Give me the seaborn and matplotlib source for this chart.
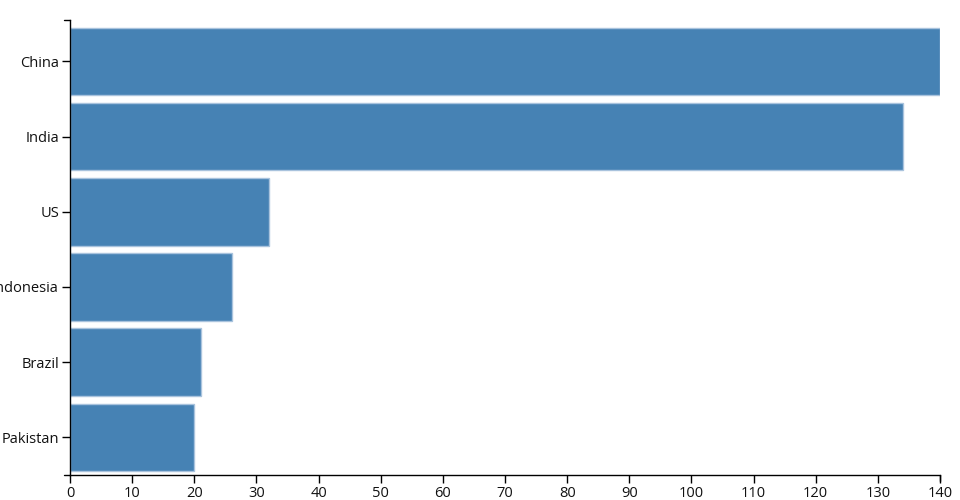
import matplotlib
matplotlib.use("Agg")
import matplotlib.pyplot as plt
import seaborn as sns
import pandas as pd

# 資料
countries = ["China", "India", "US", "Indonesia", "Brazil", "Pakistan"]
values = [140, 134, 32, 26, 21, 20]
x_ticks = list(range(0, 141, 10))

sns.set_style("ticks")
plt.rcParams['font.family'] = ['Open Sans', 'DejaVu Sans']

df = pd.DataFrame({"country": countries, "value": values})

fig = plt.figure(figsize=(9.6, 5.0), dpi=100)
ax = fig.add_axes([70 / 960, 25 / 500, 870 / 960, 455 / 500])

sns.barplot(data=df, x="value", y="country", orient="h", color="#4682B4",
            saturation=1, width=0.9, edgecolor="#a9c3dd", linewidth=1, ax=ax)

ax.set_xlim(0, 140)
ax.set_ylim(len(countries) - 0.5, -0.55)
ax.set_xticks(x_ticks)
ax.set_xlabel("")
ax.set_ylabel("")

# 座標軸樣式（仿 D3）
for s in ["top", "right"]:
    ax.spines[s].set_visible(False)
for s in ["left", "bottom"]:
    ax.spines[s].set_linewidth(1)
    ax.spines[s].set_color("black")
ax.tick_params(axis="both", length=6, width=1, color="black",
               labelsize=10.5, labelcolor="#111111", pad=2)

# 外側端點刻度
tick_kw = dict(color="black", linewidth=1, clip_on=False, transform=ax.transAxes)
dx = 6 / 870
dy = 6 / 455
ax.plot([-dx, 0], [1, 1], **tick_kw)
ax.plot([-dx, 0], [0, 0], **tick_kw)
ax.plot([1, 1], [0, -dy], **tick_kw)

fig.savefig("out.png", dpi=100)
